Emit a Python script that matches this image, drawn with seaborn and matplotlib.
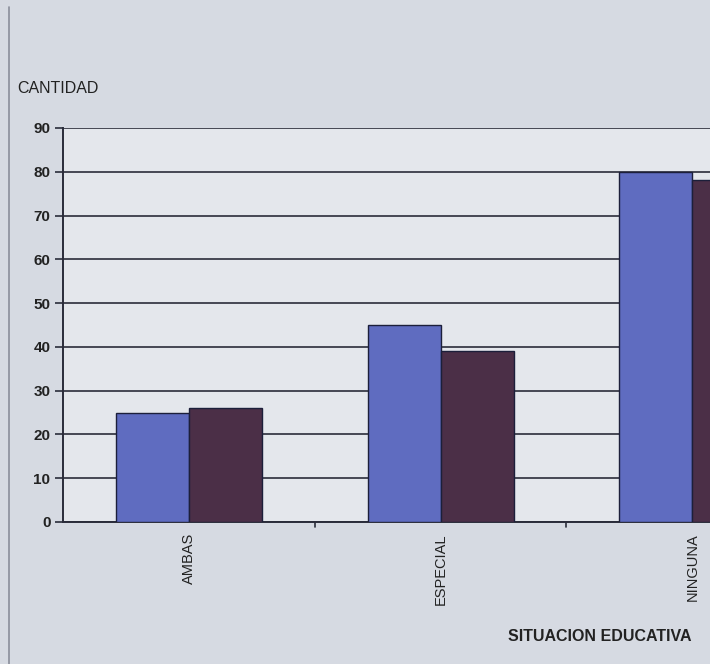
import pandas as pd
import numpy as np
import matplotlib.pyplot as plt
import seaborn as sns

# data
categorias = ["AMBAS", "ESPECIAL", "NINGUNA"]
serie_1 = [25, 45, 80]
serie_2 = [26, 39, 78]
series = ["Serie 1", "Serie 2"]
colores = ["#5F6CC0", "#4B2F47"]
yticks = list(range(0, 100, 10))

df = pd.DataFrame({
    "categoria": categorias * 2,
    "valor": serie_1 + serie_2,
    "serie": [series[0]] * 3 + [series[1]] * 3,
})

sns.set_style("white")
plt.rcParams["font.family"] = ["Liberation Sans", "DejaVu Sans"]

fig = plt.figure(figsize=(7.1, 6.64), dpi=100)
fig.patch.set_facecolor("#D6DAE2")
ax = fig.add_axes([0.0887, 0.2139, 1 - 0.0887, 0.5934])
ax.set_facecolor("#E4E7EC")

sns.barplot(data=df, x="categoria", y="valor", hue="serie", palette=colores,
            width=0.58, gap=0, edgecolor="#1C1F3A", linewidth=1.0,
            saturation=1, legend=False, ax=ax, zorder=3)

ax.set_ylim(0, 90)
ax.set_xlim(-0.5, 2.07)
ax.set_yticks(yticks)
ax.set_yticklabels([str(t) for t in yticks], fontsize=11, fontweight="bold", color="#222222")
ax.yaxis.grid(True, color="#2A2C3A", linewidth=1.2, zorder=1)
ax.set_axisbelow(True)

# category boundary ticks on x axis
ax.set_xticks([0, 1, 2])
ax.set_xticklabels(categorias, rotation=90, fontsize=10.5, color="#222222")
ax.tick_params(axis="x", length=0, pad=8)
for b in [0.5, 1.5]:
    ax.plot([b, b], [0, -1.2], color="#2A2C3A", lw=1.2, clip_on=False)
ax.tick_params(axis="y", left=True, direction="out", length=6, width=1.2,
               color="#2A2C3A", pad=3)

for s in ["top", "right"]:
    ax.spines[s].set_visible(False)
for s in ["left", "bottom"]:
    ax.spines[s].set_color("#2A2C3A")
    ax.spines[s].set_linewidth(1.4)

ax.set_xlabel("")
ax.set_ylabel("")
fig.text(0.025, 0.86, "CANTIDAD", fontsize=11.5, color="#222222")
fig.text(0.715, 0.035, "SITUACION EDUCATIVA", fontsize=11.5, fontweight="bold", color="#222222")

# outer frame line on the left like the printed page
fig.add_artist(plt.Line2D([0.012, 0.012], [0.0, 0.99], color="#8A8E9A", lw=1.2))

plt.savefig("out.png", dpi=100)
